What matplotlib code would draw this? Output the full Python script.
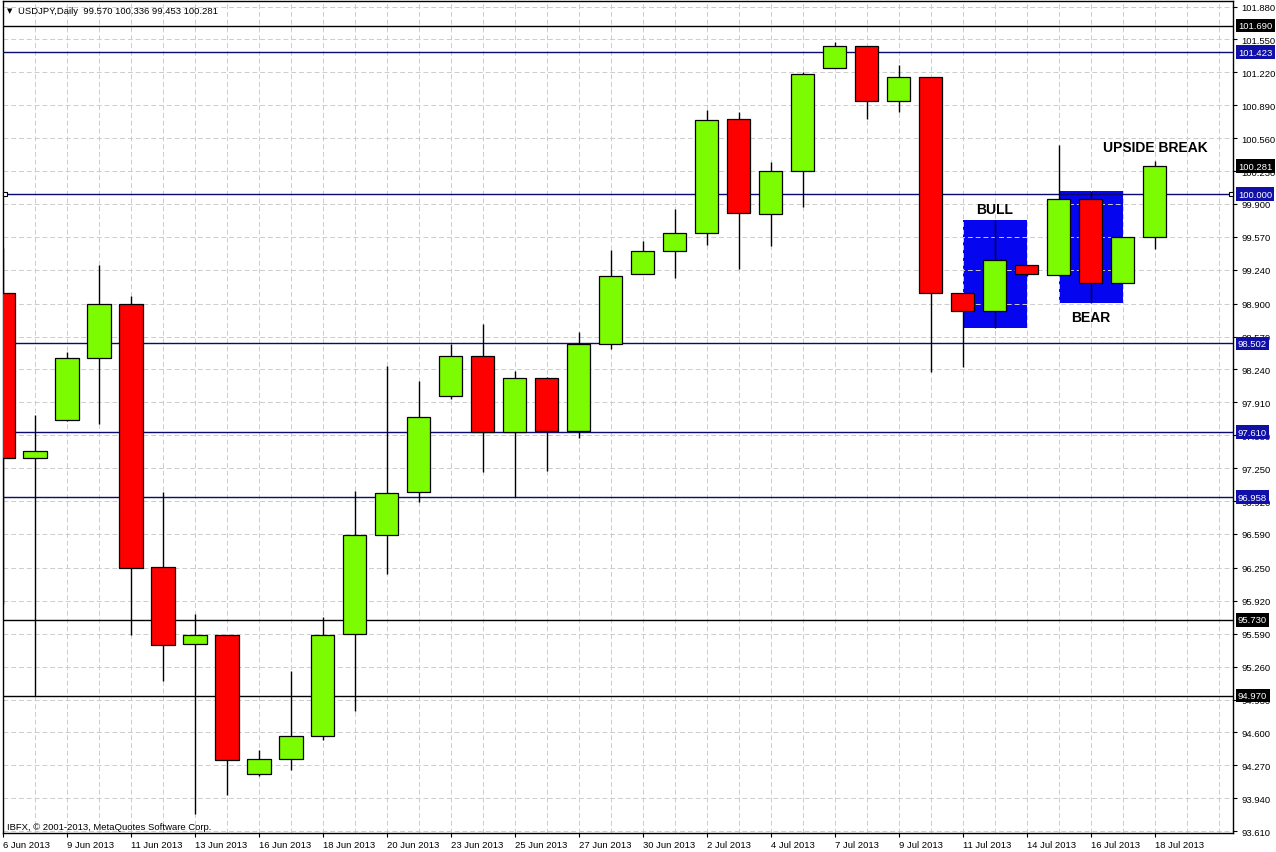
import matplotlib
matplotlib.use('Agg')
import matplotlib.pyplot as plt
from matplotlib.patches import Rectangle
from matplotlib.transforms import blended_transform_factory

plt.rcParams['font.family'] = ['Liberation Sans', 'DejaVu Sans']

# ---------------- data ----------------
dates = ['6 Jun 2013', '7 Jun 2013', '9 Jun 2013', '10 Jun 2013', '11 Jun 2013', '12 Jun 2013',
         '13 Jun 2013', '14 Jun 2013', '16 Jun 2013', '17 Jun 2013', '18 Jun 2013', '19 Jun 2013',
         '20 Jun 2013', '21 Jun 2013', '23 Jun 2013', '24 Jun 2013', '25 Jun 2013', '26 Jun 2013',
         '27 Jun 2013', '28 Jun 2013', '30 Jun 2013', '1 Jul 2013', '2 Jul 2013', '3 Jul 2013',
         '4 Jul 2013', '5 Jul 2013', '7 Jul 2013', '8 Jul 2013', '9 Jul 2013', '10 Jul 2013',
         '11 Jul 2013', '12 Jul 2013', '14 Jul 2013', '15 Jul 2013', '16 Jul 2013', '17 Jul 2013',
         '18 Jul 2013']
opens = [99.004, 97.350, 97.730, 98.351, 98.893, 96.256, 95.485, 95.573, 94.180, 94.330,
         94.561, 95.587, 96.577, 97.008, 97.971, 98.378, 97.610, 98.151, 97.626, 98.495,
         99.198, 99.431, 99.606, 100.752, 99.796, 100.234, 101.261, 101.481, 100.930, 101.171,
         99.004, 98.823, 99.291, 99.185, 99.947, 99.107, 99.570]
highs = [99.458, 97.783, 98.420, 99.284, 98.977, 97.008, 95.791, 95.573, 94.423, 95.219,
         95.754, 97.018, 98.272, 98.127, 98.495, 98.696, 98.228, 98.161, 98.613, 99.441,
         99.526, 99.850, 100.843, 100.819, 100.318, 101.221, 101.528, 101.481, 101.294, 101.171,
         99.004, 99.739, 99.291, 100.491, 100.027, 99.566, 100.336]
lows = [95.888, 94.970, 97.720, 97.691, 95.580, 95.119, 93.783, 93.968, 94.166, 94.226,
        94.527, 94.817, 96.189, 96.908, 97.944, 97.209, 96.958, 97.225, 97.553, 98.445,
        99.198, 99.157, 99.491, 99.248, 99.481, 99.873, 101.261, 100.752, 100.819, 98.212,
        98.262, 98.652, 99.180, 99.185, 98.903, 99.107, 99.453]
closes = [97.353, 97.419, 98.351, 98.893, 96.244, 95.472, 95.573, 94.325, 94.330, 94.561,
          95.577, 96.580, 96.998, 97.760, 98.378, 97.610, 98.151, 97.626, 98.495, 99.175,
          99.431, 99.606, 100.745, 99.806, 100.234, 101.204, 101.481, 100.930, 101.171, 99.004,
          98.823, 99.341, 99.198, 99.947, 99.107, 99.566, 100.281]

level_values = [101.690, 101.423, 100.000, 98.502, 97.610, 96.958, 95.730, 94.970]
level_styles = ['black', 'blue', 'blue', 'blue', 'blue', 'blue', 'black', 'black']
current_price = 100.281

ytick_values = [101.880, 101.550, 101.220, 100.890, 100.560, 100.230, 99.900, 99.570, 99.240,
                98.900, 98.570, 98.240, 97.910, 97.580, 97.250, 96.920, 96.590, 96.250, 95.920,
                95.590, 95.260, 94.930, 94.600, 94.270, 93.940, 93.610]
ytick_labels = ['%.3f' % v for v in ytick_values]

box_bull = dict(x0=30, x1=32, y0=98.652, y1=99.739)
box_bear = dict(x0=33, x1=35, y0=98.903, y1=100.027)

annotations = [('BULL', 31, 99.85), ('BEAR', 34, 98.763), ('UPSIDE BREAK', 36, 100.471)]

title = 'USDJPY,Daily  99.570 100.336 99.453 100.281'
copyright_txt = 'IBFX, \u00a9 2001-2013, MetaQuotes Software Corp.'

# ---------------- figure ----------------
W, H = 1276, 853
fig = plt.figure(figsize=(W / 100, H / 100), dpi=100)
fig.patch.set_facecolor('white')
ax = fig.add_axes([3 / W, 1 - 834 / H, 1230 / W, 832 / H])
ax.set_xlim(0, 38.44)
ax.set_ylim(93.591, 101.936)

bull_color = '#7CFC00'
bear_color = '#FF0000'
navy_line = '#0a0a70'
blue_label = '#1010a8'
box_color = '#0505f0'
grid_color = '#cccccc'
fs = 6.8

# blue boxes (background)
for b in (box_bull, box_bear):
    ax.add_patch(Rectangle((b['x0'], b['y0']), b['x1'] - b['x0'], b['y1'] - b['y0'],
                           facecolor=box_color, edgecolor='none', zorder=1))

# grid
for gx in range(0, 39):
    ax.axvline(gx, color=grid_color, lw=0.7, ls=(0, (5, 3)), zorder=2)
for gy in ytick_values:
    ax.axhline(gy, color=grid_color, lw=0.7, ls=(0, (5, 3)), zorder=2)

# level lines
trans = blended_transform_factory(ax.transAxes, ax.transData)
for v, st in zip(level_values, level_styles):
    lc = 'black' if st == 'black' else navy_line
    ax.axhline(v, color=lc, lw=1.0, zorder=3)
    ax.text(1.0 + 5 / 1230, v, '%.3f' % v, transform=trans, ha='left', va='center',
            color='white', fontsize=fs, zorder=10, clip_on=False,
            bbox=dict(boxstyle='square,pad=0.25', fc=('black' if st == 'black' else blue_label),
                      ec='none'))
ax.text(1.0 + 5 / 1230, current_price, '%.3f' % current_price, transform=trans, ha='left',
        va='center', color='white', fontsize=fs, zorder=10, clip_on=False,
        bbox=dict(boxstyle='square,pad=0.25', fc='black', ec='none'))
# handles on 100.000 line
ax.plot([2 / 1230, 1228 / 1230], [100.0, 100.0], transform=trans, ls='none', marker='s',
        ms=3.5, mfc='white', mec='black', mew=0.8, zorder=6, clip_on=False)

# candles
bw = 0.72
for i, (o, h, l, c) in enumerate(zip(opens, highs, lows, closes)):
    ax.vlines(i, l, h, color='black', lw=1.0, zorder=4)
    lo, hi = min(o, c), max(o, c)
    ax.add_patch(Rectangle((i - bw / 2, lo), bw, max(hi - lo, 0.01),
                           facecolor=bull_color if c >= o else bear_color,
                           edgecolor='black', lw=0.9, zorder=5))

# annotations
for txt, xi, yv in annotations:
    ax.text(xi, yv, txt, ha='center', va='center', fontsize=10, fontweight='bold',
            color='black', zorder=8)

# axes styling
for s in ax.spines.values():
    s.set_color('black')
    s.set_linewidth(1.0)
ax.yaxis.tick_right()
ax.set_yticks(ytick_values)
ax.set_yticklabels(ytick_labels)
ax.set_xticks(list(range(0, len(dates), 2)))
ax.set_xticklabels(dates[::2])
for lab in ax.get_xticklabels():
    lab.set_ha('left')
ax.tick_params(axis='y', direction='out', length=3, width=0.8, pad=3, labelsize=fs,
               colors='black')
ax.tick_params(axis='x', direction='out', length=3, width=0.8, pad=2, labelsize=fs,
               colors='black')

# header and footer text
fig.text(7 / W, 1 - 11 / H, '\u25BC', fontsize=5, family='DejaVu Sans', va='center', ha='left')
fig.text(18 / W, 1 - 11 / H, title, fontsize=fs, va='center', ha='left')
fig.text(7 / W, 1 - 828 / H, copyright_txt, fontsize=fs, va='center', ha='left')

fig.savefig('out.png', dpi=100, facecolor='white')
